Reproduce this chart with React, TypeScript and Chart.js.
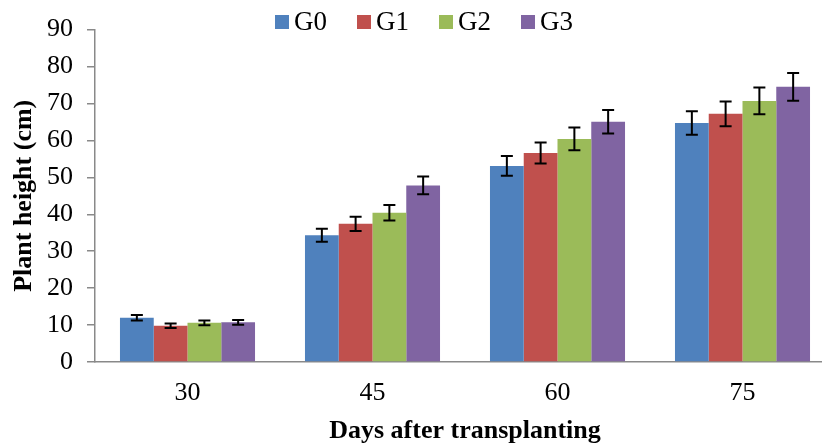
import React, { useEffect, useRef } from "react";
import { Chart, registerables } from "chart.js";

Chart.register(...registerables);

const categories = ["30", "45", "60", "75"];
const seriesNames = ["G0", "G1", "G2", "G3"];
const G0 = [12.0, 34.3, 53.1, 64.7];
const G1 = [9.8, 37.4, 56.6, 67.2];
const G2 = [10.6, 40.4, 60.4, 70.7];
const G3 = [10.75, 47.8, 65.05, 74.5];
const G0err = [0.75, 1.75, 2.7, 3.2];
const G1err = [0.6, 1.9, 2.85, 3.35];
const G2err = [0.65, 2.1, 3.1, 3.6];
const G3err = [0.65, 2.4, 3.2, 3.75];
const colors = ["#4F81BD", "#C0504D", "#9BBB59", "#8064A2"];

const FONT = "'Liberation Serif', 'Times New Roman', serif";

const errorBarPlugin = {
  id: "errorBars",
  afterDatasetsDraw(chart: any) {
    const ctx = chart.ctx;
    const yScale = chart.scales.y;
    chart.data.datasets.forEach((ds: any, i: number) => {
      const meta = chart.getDatasetMeta(i);
      meta.data.forEach((bar: any, j: number) => {
        const v = ds.data[j];
        const e = ds.errors[j];
        const x = bar.x;
        const yTop = yScale.getPixelForValue(v + e);
        const yBot = yScale.getPixelForValue(v - e);
        ctx.save();
        ctx.strokeStyle = "#000";
        ctx.lineWidth = 2;
        ctx.beginPath();
        ctx.moveTo(x, yTop);
        ctx.lineTo(x, yBot);
        ctx.moveTo(x - 6, yTop);
        ctx.lineTo(x + 6, yTop);
        ctx.moveTo(x - 6, yBot);
        ctx.lineTo(x + 6, yBot);
        ctx.stroke();
        ctx.restore();
      });
    });
  },
};

const legendPlugin = {
  id: "customLegend",
  afterDraw(chart: any) {
    const ctx = chart.ctx;
    ctx.save();
    ctx.font = `27px ${FONT}`;
    const box = 14;
    const gap = 5;
    const spacing = 30;
    const items = chart.data.datasets.map((d: any) => ({
      label: d.label,
      color: d.backgroundColor,
      w: box + gap + ctx.measureText(d.label).width,
    }));
    const total = items.reduce((s: number, it: any) => s + it.w, 0) + spacing * (items.length - 1);
    let x = chart.width / 2 + 6 - total / 2;
    const cy = 22;
    items.forEach((it: any) => {
      ctx.fillStyle = it.color;
      ctx.fillRect(x, cy - box / 2, box, box);
      ctx.fillStyle = "#000";
      ctx.textBaseline = "middle";
      ctx.textAlign = "left";
      ctx.fillText(it.label, x + box + gap, cy + 1);
      x += it.w + spacing;
    });
    ctx.restore();
  },
};

export default function App() {
  const ref = useRef<HTMLCanvasElement>(null);
  useEffect(() => {
    document.body.style.overflow = "hidden";
    const values = [G0, G1, G2, G3];
    const errs = [G0err, G1err, G2err, G3err];
    const chart = new Chart(ref.current!, {
      type: "bar",
      data: {
        labels: categories,
        datasets: seriesNames.map((n, i) => ({
          label: n,
          data: values[i],
          errors: errs[i],
          backgroundColor: colors[i],
          borderWidth: 0,
          categoryPercentage: 0.73,
          barPercentage: 1.0,
        })) as any,
      },
      options: {
        responsive: false,
        animation: false,
        layout: { padding: { top: 27, right: 1, left: 0, bottom: 0 } },
        plugins: { legend: { display: false }, tooltip: { enabled: false } },
        scales: {
          x: {
            grid: { display: false, drawTicks: false },
            border: { display: true, color: "#898989", width: 1.5 },
            ticks: { color: "#000", font: { family: FONT, size: 26 }, padding: 16 },
            title: {
              display: true,
              text: "Days after transplanting",
              color: "#000",
              font: { family: FONT, size: 26, weight: "bold" },
              padding: { top: 0, bottom: 0 },
            },
            afterFit(scale: any) {
              scale.height = 85;
            },
          },
          y: {
            min: 0,
            max: 90,
            ticks: { stepSize: 10, color: "#000", font: { family: FONT, size: 26 }, padding: 14 },
            grid: { display: true, drawOnChartArea: false, drawTicks: true, tickLength: 8, color: "#898989", lineWidth: 1.5 },
            border: { display: true, color: "#898989", width: 1.5 },
            title: {
              display: true,
              text: "Plant height (cm)",
              color: "#000",
              font: { family: FONT, size: 26, weight: "bold" },
              padding: { top: 9, bottom: 0 },
            },
            afterFit(scale: any) {
              scale.width = 95;
            },
          },
        },
      },
      plugins: [errorBarPlugin, legendPlugin],
    });
    return () => chart.destroy();
  }, []);
  return (
    <div style={{ position: "fixed", left: 0, top: 0, width: 836, height: 447, background: "#fff" }}>
      <canvas ref={ref} width={836} height={447} style={{ display: "block" }} />
    </div>
  );
}
